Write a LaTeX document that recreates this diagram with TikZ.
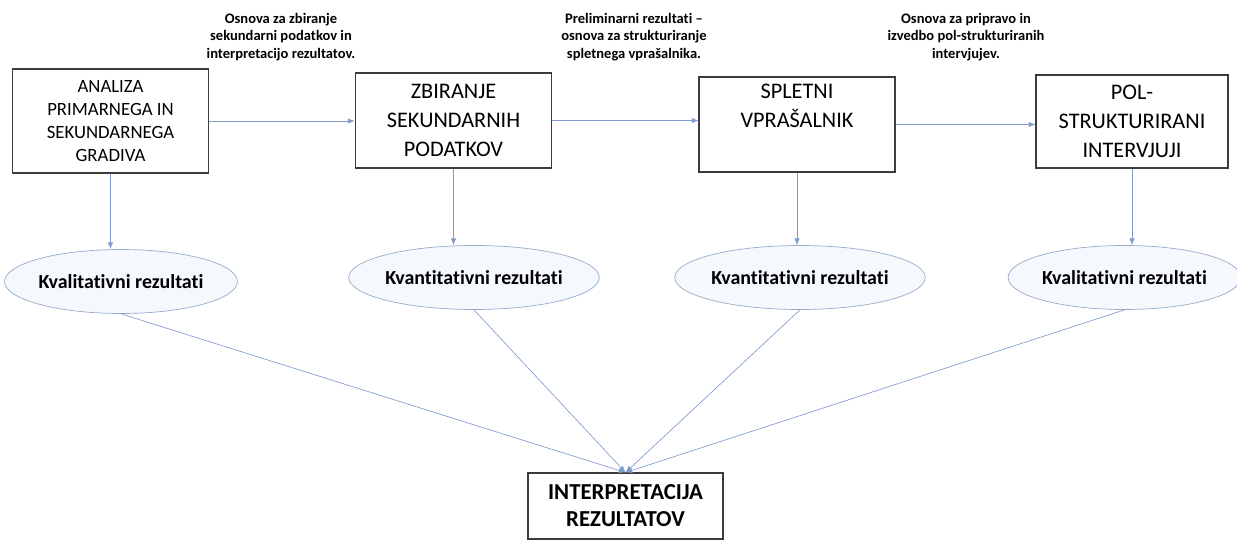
\documentclass[tikz,border=0pt]{standalone}
\usepackage{fontspec}
\setmainfont{Carlito}[Ligatures={TeX,NoCommon}]
\usetikzlibrary{arrows.meta,positioning,shapes.geometric}
\definecolor{ArrowBlue}{RGB}{125,155,205}
\definecolor{EllipseEdge}{RGB}{150,172,205}
\definecolor{EllipseFill}{RGB}{245,248,252}
\definecolor{BoxEdge}{RGB}{60,60,60}
\tikzset{
  stagebox/.style={draw=BoxEdge,line width=0.9pt,fill=white,
    minimum width=5.9cm,minimum height=2.85cm,align=center,inner sep=2pt,
    font=\fontsize{19}{25}\selectfont},
  resultell/.style={draw=EllipseEdge,ellipse,fill=EllipseFill,line width=0.6pt,
    minimum width=6.8cm,minimum height=1.92cm,inner sep=0pt,
    font=\fontsize{17}{20}\selectfont\bfseries},
  notelabel/.style={align=center,font=\fontsize{12.4}{15}\selectfont\bfseries},
  flowarrow/.style={-{Latex[length=2mm,width=1.6mm]},
    line width=0.55pt,draw=ArrowBlue},
}

\begin{document}
\begin{tikzpicture}[x=0.03cm,y=-0.03cm]
  \useasboundingbox (0,0) rectangle (1237,540);
  % stages
  \node[stagebox,minimum height=3.12cm,font=\fontsize{16}{19.6}\selectfont] (b1) at (110.5,121) {ANALIZA\\PRIMARNEGA IN\\SEKUNDARNEGA\\GRADIVA};
  \node[stagebox] (b2) at (453.5,120.5) {ZBIRANJE\\SEKUNDARNIH\\PODATKOV};
  \node[stagebox,minimum width=5.88cm] (b3) at (797,124.5) {SPLETNI\\VPRAŠALNIK\\\strut};
  \node[stagebox,minimum width=5.76cm,minimum height=2.79cm] (b4) at (1132,121.5) {POL-\\STRUKTURIRANI\\INTERVJUJI};
  % notes above the arrows
  \node[notelabel] (n1) at (281,37) {Osnova za zbiranje\\sekundarni podatkov in\\interpretacijo rezultatov.};
  \node[notelabel] (n2) at (634,37) {Preliminarni rezultati --\\osnova za strukturiranje\\spletnega vprašalnika.};
  \node[notelabel] (n3) at (966,37) {Osnova za pripravo in\\izvedbo pol-strukturiranih\\intervjujev.};
  % results
  \node[resultell] (e1) at (121,281.5) {Kvalitativni rezultati};
  \node[resultell] (e2) at (474,277.5) {Kvantitativni rezultati};
  \node[resultell] (e3) at (800,277.5) {Kvantitativni rezultati};
  \node[resultell,minimum width=6.69cm] (e4) at (1124.5,277.5) {Kvalitativni rezultati};
  \node[stagebox,minimum width=5.85cm,minimum height=1.98cm,
    font=\fontsize{19.5}{23}\selectfont\bfseries] (res) at (625.5,506) {INTERPRETACIJA\\REZULTATOV};
  % connectors
  \draw[flowarrow] (b1.east) -- (b1.east -| b2.west);
  \draw[flowarrow] (b2.east) -- (b2.east -| b3.west);
  \draw[flowarrow] (b3.east) -- (b3.east -| b4.west);
  \draw[flowarrow] (b1.south) -- (b1.south |- e1.north);
  \draw[flowarrow] (b2.south) -- (b2.south |- e2.north);
  \draw[flowarrow] (b3.south) -- (b3.south |- e3.north);
  \draw[flowarrow] (b4.south) -- (b4.south |- e4.north);
  \draw[flowarrow] (e1.south) -- (res.north);
  \draw[flowarrow] (e2.south) -- (res.north);
  \draw[flowarrow] (e3.south) -- (res.north);
  \draw[flowarrow] (e4.south) -- (res.north);
\end{tikzpicture}
\end{document}
